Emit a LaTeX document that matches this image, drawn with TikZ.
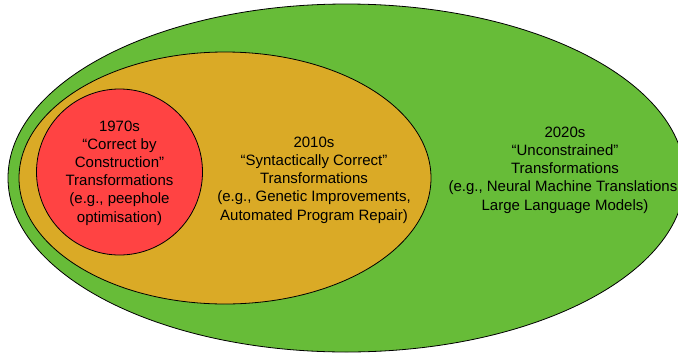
\documentclass[tikz,border=0pt]{standalone}
\usepackage{fontspec}
\setmainfont{Liberation Sans}
\definecolor{greenfill}{HTML}{67BC38}
\definecolor{orangefill}{HTML}{DAAA26}
\definecolor{redfill}{HTML}{FF4343}
\begin{document}
\begin{tikzpicture}[x=1pt,y=-1pt,
  region/.style={draw=black,line width=0.8pt},
  label/.style={align=center,font=\fontsize{15}{18.2}\selectfont,inner sep=0pt}]
\useasboundingbox (0,0) rectangle (678,354);
\fill[white] (0,0) rectangle (678,354);
\draw[region,fill=greenfill] (346.5,178) ellipse [x radius=338.5,y radius=174];
\draw[region,fill=orangefill] (225,178) ellipse [x radius=206,y radius=126];
\draw[region,fill=redfill] (119.5,172) circle [radius=83];
\node[label] (red) at (119.5,173) {1970s\\“Correct by\\Construction”\\Transformations\\(e.g., peephole\\optimisation)};
\node[label] (orange) at (314,180) {2010s\\“Syntactically Correct”\\Transformations\\(e.g., Genetic Improvements,\\Automated Program Repair)};
\node[label] (green) at (565,170) {2020s\\“Unconstrained”\\Transformations\\(e.g., Neural Machine Translations,\\Large Language Models)};
\end{tikzpicture}
\end{document}
